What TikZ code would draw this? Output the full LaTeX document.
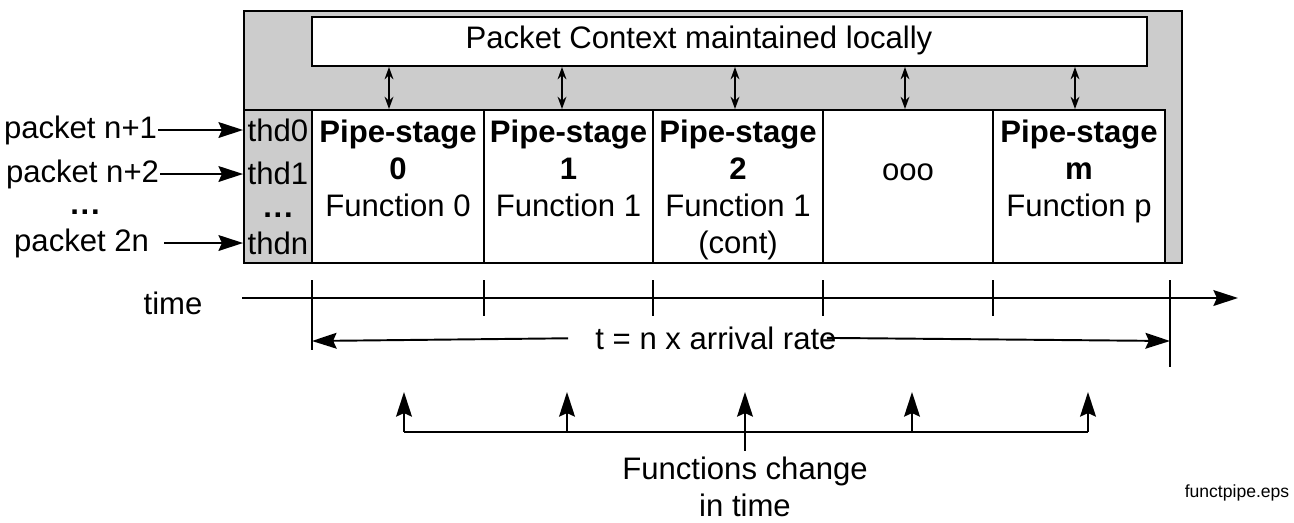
\documentclass[tikz,border=0pt]{standalone}
\usepackage{fontspec}
\setmainfont{Liberation Sans}
\usetikzlibrary{arrows.meta,positioning}
\definecolor{ctxgray}{HTML}{CCCCCC}

\begin{document}
\begin{tikzpicture}[
    x=0.02cm, y=-0.02cm, line width=1.1pt,
    box/.style={draw, line width=1.1pt, inner sep=0pt},
    stagebox/.style={box, fill=white, minimum height=3.06cm},
    lbl/.style={font=\fontsize{17.7}{21}\selectfont, inner sep=0pt, align=center},
    dotlbl/.style={font=\fontsize{17.7}{21}\selectfont\bfseries, inner sep=0pt},
    bigtip/.style={-{Stealth[length=14pt,width=9pt,inset=2pt]}},
    dbltip/.style={{Stealth[length=7pt,width=5pt]}-{Stealth[length=7pt,width=5pt]}},
    >=Stealth
]
\useasboundingbox (0,0) rectangle (1294,522);

% shared context on top
\node[box, fill=ctxgray, minimum width=18.76cm, minimum height=5.04cm] (frame) at (713,137) {};
\node[box, fill=white, minimum width=16.7cm, minimum height=0.98cm] (ctx) at (729.5,41.5) {};
\node[lbl] (ctxtxt) at (699,40) {Packet Context maintained locally};

% threads and pipe stages
\node[box, fill=ctxgray, minimum width=1.36cm, minimum height=3.06cm] (thd) at (278,186.5) {};
\foreach \i/\a/\b in {0/312/484, 1/484/653, 2/653/823, 3/823/993, 4/993/1165}
    \node[stagebox, minimum width={(\b-\a)*0.02cm}] (st\i) at ({(\a+\b)/2},186.5) {};

\foreach \i/\t/\y in {0/thd0/130, 1/thd1/173, 3/thdn/243}
    \node[lbl] (th\i) at (278,\y) {\t};
\node[dotlbl] (th2) at (278,215) {.\kern1pt.\kern1pt.};

\node[lbl, below=0.2cm of st0.north] (s0txt) {\textbf{Pipe-stage}\\\textbf{0}\\Function 0};
\node[lbl, below=0.2cm of st1.north] (s1txt) {\textbf{Pipe-stage}\\\textbf{1}\\Function 1};
\node[lbl, below=0.2cm of st2.north] (s2txt) {\textbf{Pipe-stage}\\\textbf{2}\\Function 1\\(cont)};
\node[lbl] (s3txt) at (908,172) {ooo};
\node[lbl, below=0.2cm of st4.north] (s4txt) {\textbf{Pipe-stage}\\\textbf{m}\\Function p};

\foreach \i/\x in {0/389, 1/562, 2/735, 3/905, 4/1075}
    \draw[dbltip] (ctx.south -| \x,0) -- (st\i.north -| \x,0);

% incoming packets
\node[lbl, anchor=east] (pk1) at (158,130) {packet n+1};
\node[lbl, anchor=east] (pk2) at (160,174) {packet n+2};
\node[dotlbl] (pkd) at (85,212) {.\kern1pt.\kern1pt.};
\node[lbl, anchor=east] (pk3) at (150,243) {packet 2n};
\draw[bigtip] (pk1.east) -- (pk1.east -| thd.west);
\draw[bigtip] (pk2.east) -- (pk2.east -| thd.west);
\draw[bigtip, shorten <=8pt] (pk3.east) -- (pk3.east -| thd.west);

% time axis
\node[lbl] (time) at (173,303) {time};
\coordinate (ax0) at (242,298);
\coordinate (ax1) at (1238,298);
\draw[bigtip] (ax0) -- (ax1);
\foreach \x in {484,653,823,993}
    \draw (\x,280) -- (\x,316);
\coordinate (tk0) at (312,341);
\coordinate (tk1) at (1170,341);
\draw (312,280) -- (312,350);
\draw (1170,280) -- (1170,367);
\node[lbl] (rate) at (716,338) {t = n x arrival rate};
\draw[bigtip, shorten <=15pt] (rate.west) -- (tk0);
\draw[bigtip, shorten <=-6pt] (rate.east) -- (tk1);

% function changes
\coordinate (fc0) at (404,432);
\coordinate (fc1) at (1088,432);
\draw (fc0) -- (fc1);
\foreach \x in {404,567,745,912,1088}
    \draw[bigtip] (\x,432) -- (\x,392);
\node[lbl, anchor=north] (fchg) at (745,456) {Functions change\\in time};
\draw ([yshift=3pt]fchg.north) -- (fchg.north |- fc0);

\node[font=\fontsize{10}{12}\selectfont, inner sep=0pt] (eps) at (1237,493) {functpipe.eps};
\end{tikzpicture}
\end{document}
